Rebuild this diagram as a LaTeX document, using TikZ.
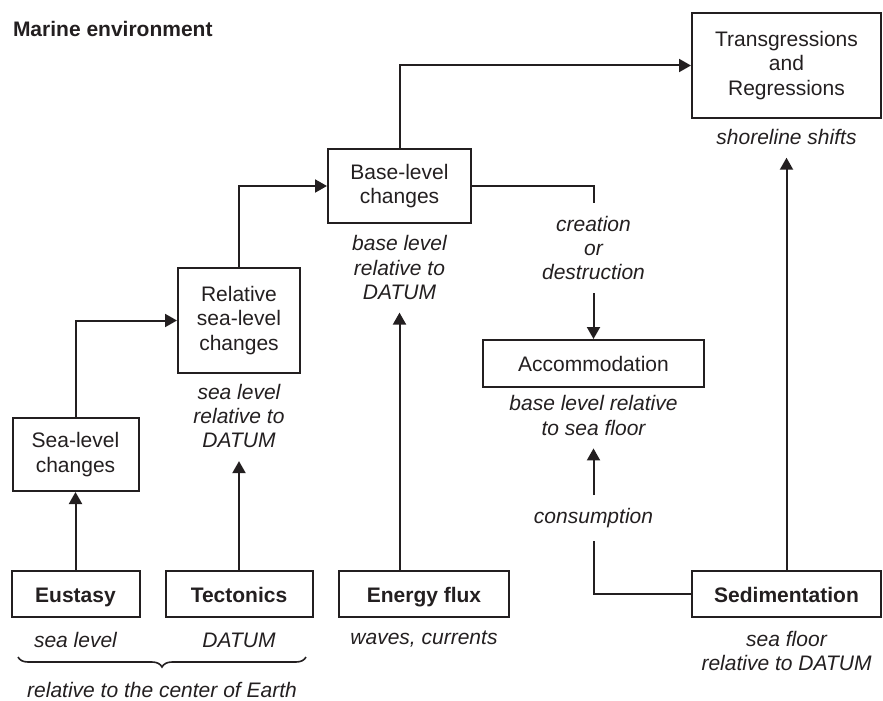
\documentclass[tikz,border=0pt]{standalone}
\usepackage{fontspec}
\setmainfont{Liberation Sans}
\usepackage{tikz}
\usetikzlibrary{arrows.meta, decorations.pathreplacing}
\definecolor{tinta}{HTML}{231F20}
\newcommand{\B}[1]{\textbf{#1}}

\begin{document}
\begin{tikzpicture}[x=0.5pt, y=-0.5pt, line width=1pt, color=tinta,
        font=\fontsize{10.5}{12.4}\selectfont,
        caja/.style={draw, align=center, inner sep=2pt},
        base/.style={caja, text height=8.5pt, text depth=0pt, minimum height=23pt},
        nota/.style={align=center, font=\fontsize{10.5}{12.2}\selectfont\itshape, inner sep=6pt},
        flecha/.style={-{Triangle[length=6pt, width=6.5pt]}}]
        \useasboundingbox (0,0) rectangle (883,701);
        % Título
        \node[anchor=west, inner sep=0pt] (titulo) at (12,29) {\B{Marine environment}};
        % Cajas de abajo
        \node[base, minimum width=64pt] (eus) at (75.5,593.5) {\B{Eustasy}};
        \node[base, minimum width=73.5pt] (tec) at (239,593.5) {\B{Tectonics}};
        \node[base, minimum width=85pt] (enf) at (424,593.5) {\B{Energy flux}};
        \node[base, minimum width=94.5pt] (sed) at (786.5,593.5) {\B{Sedimentation}};
        % Notas de abajo
        \node[nota] (eusn) at (75.5,640) {sea level};
        \node[nota] (tecn) at (239,640) {DATUM};
        \node[nota] (enfn) at (424,639) {waves, currents};
        \node[nota] (sedn) at (786.5,651) {sea floor\\relative to DATUM};
        % Llave
        \draw[line width=0.8pt, decorate, decoration={brace, mirror, amplitude=5pt}] (18,657) -- (306,657);
        \node[font=\fontsize{10.5}{12.4}\selectfont\itshape] (tierra) at (162,690) {relative to the center of Earth};
        % Cajas del medio
        \node[caja, minimum width=63pt, minimum height=36.5pt] (slc) at (75.5,454.5) {Sea-level\\changes};
        \node[caja, minimum width=61pt, minimum height=52.5pt] (rsl) at (239,320.5) {Relative\\sea-level\\changes};
        \node[nota] (rsln) at (239,416) {sea level\\relative to\\DATUM};
        \node[caja, minimum width=71.5pt, minimum height=37pt] (blc) at (399.5,186) {Base-level\\changes};
        \node[nota] (blcn) at (399.5,267.5) {base level\\relative to\\DATUM};
        \node[caja, minimum width=94.5pt, minimum height=52.5pt] (trr) at (786.5,65.5) {Transgressions\\and\\Regressions};
        \node[nota] (trrn) at (786.5,137) {shoreline shifts};
        % Lado derecho
        \node[nota] (cre) at (593.5,248) {creation\\or\\destruction};
        \node[caja, minimum width=110.5pt, minimum height=23.5pt] (acc) at (593.5,363.5) {Accommodation};
        \node[nota] (accn) at (593.5,415.5) {base level relative\\to sea floor};
        \node[nota] (con) at (593.5,518) {consumption};
        % Flechas
        \draw[flecha] (eus) -- (slc);
        \draw[flecha] (slc.north) |- (rsl.west);
        \draw[flecha] (tec) -- (rsln);
        \draw[flecha] (rsl.north) |- (blc.west);
        \draw[flecha] (blcn.south |- enf.north) -- (blcn.south);
        \draw[flecha] (blc.north) |- (trr.west);
        \draw (blc.east) -| (cre.north);
        \draw[flecha] (cre) -- (acc);
        \draw (sed.west) -| (con.south);
        \draw[flecha] (con) -- (accn);
        \draw[flecha] (sed.north) -- (trrn.south);
    \end{tikzpicture}
\end{document}
